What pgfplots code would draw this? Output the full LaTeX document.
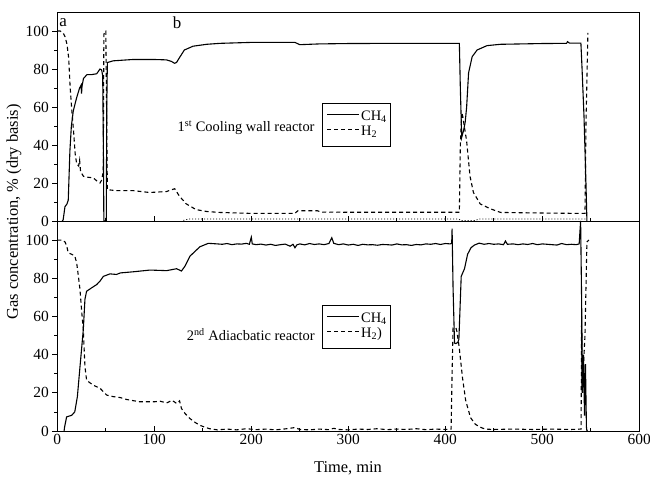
\documentclass[border=0pt]{standalone}
\usepackage{fontspec}
\setmainfont{Liberation Serif}
\usepackage{pgfplots}
\pgfplotsset{compat=1.18}
\begin{document}
\begin{tikzpicture}
\pgfplotsset{
  every axis/.append style={
    scale only axis, width=582bp,
    xmin=0, xmax=600, ymin=0, ymax=110,
    xtick={0,100,...,600}, minor x tick num=1,
    ytick={0,20,...,100}, minor y tick num=1,
    xtick align=inside, ytick align=outside,
    xtick pos=bottom, ytick pos=left,
    major tick length=5bp, minor tick length=3bp,
    tick style={black, line width=0.7bp},
    axis line style={line width=0.9bp},
    /pgf/number format/assume math mode=true,
    tick label style={font=\fontsize{15.5}{18}\selectfont},
    legend cell align=left,
    legend image code/.code={\draw[#1] (0bp,3bp) -- (32bp,3bp);},
  },
  ch4/.style={black, line width=1.1bp},
  h2/.style={black, line width=1.1bp, dash pattern=on 4bp off 3bp},
  dt/.style={black, line width=0.8bp, dash pattern=on 1bp off 2bp},
  lg/.style={legend style={at={(0.455,#1)}, anchor=north west, draw=black, line width=0.9bp,
    font=\fontsize{14.5}{17}\selectfont, inner xsep=4bp, inner ysep=8bp, row sep=3bp,
    column sep=1.5bp,
    nodes={inner sep=0bp, text height=9bp, text depth=3bp}}},
}
\begin{axis}[at={(57.3bp,257bp)}, anchor=south west, height=209bp,
  xticklabels={}, lg=0.565]
\addplot[ch4] coordinates {(5,0)(6,0.5)(7.9,7.5)(10,9)(11.3,11)(13,37)(14.5,50)(16.5,58)(20,65)(23,70)(24.5,71.5)(25,67)(25.5,71)(27,75)(30.5,77)(35,77)(40.6,77.5)(42,78.5)(44,80)(45.7,79.5)(46.8,76.5)(47.5,40)(48,0)(50.5,0)(51,60)(51.6,83.4)(57.6,84.3)(78,85)(100,85)(112.5,84.8)(117.6,84)(121,83)(123,83.5)(126,86)(131,90)(140,92)(154,93)(167.7,93.5)(200,94)(245,94)(250,92.8)(270,93.2)(300,93.4)(350,93.5)(400,93.5)(414.5,93.5)(415.5,70)(416.9,44)(419,48)(420.5,52)(422,60)(424,78)(427.7,86.5)(432.8,90)(443,92.3)(457,93)(500,93.4)(525,93.5)(526,94.4)(528,93.6)(539.8,93.6)(541,80)(543,55)(545,20)(546,0)};
\addlegendentry{CH\textsubscript{4}}
\addplot[h2] coordinates {(0,100)(3,100)(6,99)(8,97)(10,93)(11.7,86)(13.3,70)(15,58)(16.7,47.7)(18.4,35.5)(20,30)(22,29)(23,32)(24,26)(27,23.5)(32,23)(37,22.7)(41,21)(44,20)(45.7,21.5)(47.4,26)(48,98)(49,100)(50,100)(50.8,60)(51.6,16.5)(60,16)(78,16)(95,15)(112.5,15.5)(121,17)(126,13)(133,9)(143,6)(154,5)(167.7,4.5)(200,4)(245,4)(248,5.4)(268,5.4)(272,4.7)(300,4.6)(400,4.6)(414.5,4.6)(415.5,40)(417,57)(418,55)(422,42)(425.5,23.5)(429,15)(436,9)(446,6.5)(457,4.5)(500,4.2)(537,4)(544,4)(545,50)(547,99)};
\addlegendentry{H\textsubscript{2}}
\addplot[dt, forget plot] coordinates {(130,0.3)(135,1)(200,1)(300,1)(400,1)(414,1)(416,0.2)(430,0.2)(435,1)(545,1)};
\node[font=\fontsize{14.5}{16}\selectfont, anchor=west] at (axis cs:120.5,49.2) {1\textsuperscript{st} Cooling wall reactor};
\node[font=\fontsize{17}{19}\selectfont] at (axis cs:6,104.5) {a};
\node[font=\fontsize{17}{19}\selectfont] at (axis cs:123.4,104.5) {b};
\end{axis}
\begin{axis}[at={(57.3bp,47bp)}, anchor=south west, height=210bp, lg=0.60]
\addplot[ch4] coordinates {(7,0)(7.5,2)(9.6,7.4)(14.8,8.2)(18,10)(20.7,18)(23.4,33.7)(26.8,53)(28.5,69)(30.2,73.2)(35.4,75)(40.6,76.7)(44,78.5)(47.5,81)(54.3,82.3)(61,82)(65,82.8)(78.4,83.4)(95.6,84.3)(112.7,84)(123,85)(128,83.8)(131.7,86.4)(136.8,91.6)(147,96.5)(155.7,98.3)(165,98)(170,97.8)(175,98.2)(180,97.6)(185,98)(190,97.9)(195,98.3)(198,97.8)(200,101.5)(201,98)(205,97.6)(210,97.9)(215,97.4)(220,97.8)(225,97.2)(230,97.6)(235,97.9)(240,96.8)(243,97.8)(245,96)(247,97.5)(250,98)(255,97.5)(260,98.2)(265,97.7)(270,98)(275,97.6)(280,98.2)(283,101.2)(285,98.3)(290,97.6)(295,98)(300,97.4)(305,97.8)(310,97.2)(315,97.8)(320,97.5)(325,97.6)(330,97.3)(335,97.7)(340,97.6)(345,97.4)(350,98)(355,97.5)(360,97.6)(365,97.2)(370,97.7)(375,97.5)(380,98)(385,97.8)(390,98.2)(395,97.7)(400,98.2)(405,98)(406.6,98.3)(407,106)(408,75)(409.5,46)(411,45.8)(413,46.5)(414,48)(416.4,81)(419.8,85)(423,92.6)(426.5,96)(430,97.4)(435,98.4)(440,97.8)(445,98.2)(450,97.8)(455,98)(460,97.6)(462,99.5)(464,97.8)(470,98)(475,97.6)(480,98)(485,97.7)(490,98.2)(495,97.6)(500,98)(505,97.8)(510,97.6)(515,97.4)(520,98.2)(525,97.6)(530,97.8)(535,97.6)(538,98)(539.5,110)(540.5,70)(541.5,20)(542.5,40)(543.5,8)(544.5,35)(545.5,2)(546,0)(547,0)};
\addlegendentry{CH\textsubscript{4}}
\addplot[h2] coordinates {(0,100)(5.2,100)(8,99)(9.6,97)(11.3,93.4)(15,92.5)(18,91.7)(20,88)(22,80)(23.4,74)(25,63.5)(26.8,53)(28.5,33.7)(30.2,26.7)(33,25.5)(37,24)(44,22.4)(51,18.8)(57.7,18)(65,17.5)(71.5,16.5)(85,15.3)(100,15.3)(106,15.6)(112.7,14.7)(118,16)(120,15.5)(123,14.4)(126,15.8)(128,11.8)(132,9)(136.8,6.5)(142,4.5)(147,3)(152,2)(157,1.2)(165,0.6)(175,1)(185,0.6)(195,1.2)(205,0.7)(215,1)(225,0.6)(235,1.1)(245,1.8)(250,0.8)(260,0.6)(270,1)(280,0.7)(285,1.4)(290,0.8)(300,0.6)(310,1)(320,0.8)(330,1.2)(340,0.7)(350,1)(360,0.8)(370,1.2)(380,0.7)(390,1)(400,0.8)(406,1)(407,30)(408,54)(411,54)(412,52)(414.3,44)(417.7,28)(421,16)(426,7)(431,3.5)(436,2)(441,1)(450,0.8)(470,1)(490,0.8)(510,1)(530,0.8)(540,1)(540.5,60)(541,20)(544,50)(546,99)(548,100)};
\addlegendentry{H\textsubscript{2})}
\node[font=\fontsize{14.5}{16}\selectfont, anchor=west] at (axis cs:130,50.4) {2\textsuperscript{nd} Adiacbatic reactor};
\end{axis}
\node[rotate=90, font=\fontsize{16.5}{19}\selectfont] at (14bp,266bp) {Gas concentration, \% (dry basis)};
\node[font=\fontsize{16.5}{19}\selectfont] at (348bp,10bp) {Time, min};
\pgfresetboundingbox
\path (0bp,0bp) rectangle (650bp,478bp);
\end{tikzpicture}
\end{document}
